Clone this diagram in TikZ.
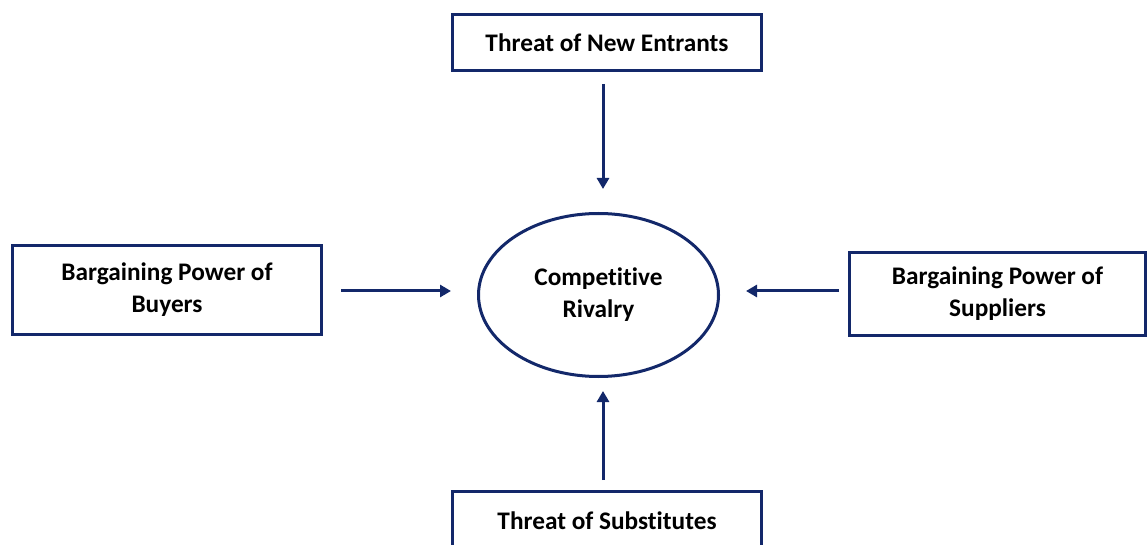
\documentclass[tikz,border=0pt]{standalone}
\usepackage{fontspec}
\setmainfont[Ligatures=NoCommon]{Carlito}
\usetikzlibrary{arrows.meta,shapes.geometric}
\definecolor{navy}{HTML}{13286A}
\begin{document}
\begin{tikzpicture}[x=1pt,y=1pt,
  labelfont/.style={font=\fontsize{25.3}{32}\selectfont\bfseries},
  forcebox/.style={draw=navy,line width=3pt,minimum width=309pt,minimum height=56pt,align=center,labelfont,inner sep=0pt},
  link/.style={draw=navy,line width=3pt,-{Triangle[length=11pt,width=12pt]}}]
\useasboundingbox (0,0) rectangle (1148,544);
\clip (0,0) rectangle (1148,544);
\node[forcebox] (top) at (607,501.5) {Threat of New Entrants};
\node[forcebox,minimum height=89pt] (left) at (167,254) {Bargaining Power of\\Buyers};
\node[forcebox,minimum width=296pt,minimum height=83pt] (right) at (997.5,250) {Bargaining Power of\\Suppliers};
\node[forcebox] (bot) at (607,24.5) {};
\node[labelfont] (bottext) at (607,23) {Threat of Substitutes};
\node[draw=navy,line width=3pt,ellipse,minimum width=240pt,minimum height=163pt,inner sep=0pt,align=center,labelfont] (core) at (598.5,249) {Competitive\\Rivalry};
\coordinate (a1) at (603,460);
\coordinate (a2) at (341,253);
\coordinate (a3) at (839,253);
\coordinate (a4) at (603,64);
\draw[link] (a1) -- (603,355);
\draw[link] (a2) -- (451,253);
\draw[link] (a3) -- (746,253);
\draw[link] (a4) -- (603,153);
\end{tikzpicture}
\end{document}
